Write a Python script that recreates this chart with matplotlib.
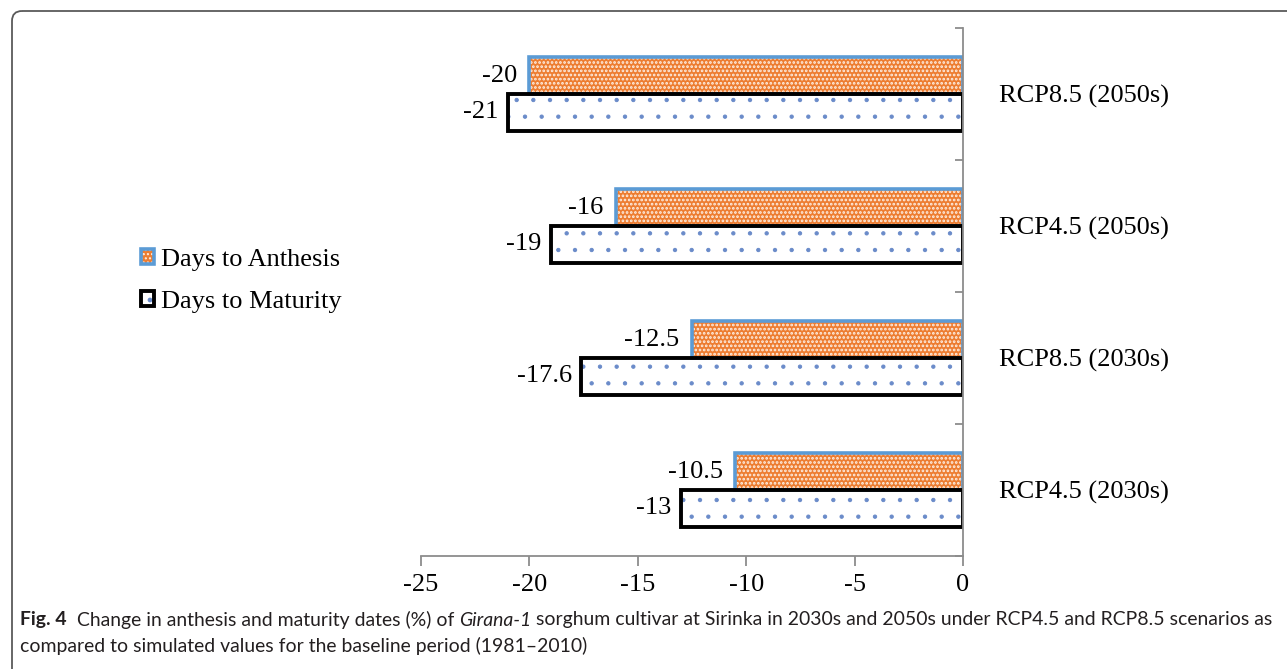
import matplotlib
matplotlib.use('Agg')
import matplotlib.pyplot as plt
import numpy as np
from matplotlib.patches import FancyBboxPatch

# scenario labels, bottom to top
scenarios = ['RCP4.5 (2030s)', 'RCP8.5 (2030s)', 'RCP4.5 (2050s)', 'RCP8.5 (2050s)']
anthesis = [-10.5, -12.5, -16, -20]
maturity = [-13, -17.6, -19, -21]
anthesis_labels = ['-10.5', '-12.5', '-16', '-20']
maturity_labels = ['-13', '-17.6', '-19', '-21']
xticks = [-25, -20, -15, -10, -5, 0]

plt.rcParams['font.family'] = ['Liberation Serif', 'DejaVu Serif']

fig = plt.figure(figsize=(12.87, 6.69), dpi=100)

# rounded frame around the figure panel
frame_ax = fig.add_axes([0, 0, 1, 1])
frame_ax.set_xlim(0, 1287)
frame_ax.set_ylim(669, 0)
frame_ax.axis('off')
frame_ax.add_patch(FancyBboxPatch((12, 11), 1320, 700,
                                  boxstyle='round,pad=0,rounding_size=10',
                                  fill=False, edgecolor='#5a5a5a', linewidth=1.3))

ax = fig.add_axes([421 / 1287, 1 - 556 / 669, 542 / 1287, 528 / 669])
ax.patch.set_alpha(0)

y = np.arange(len(scenarios))
h = 0.28

# hatched fills
with plt.rc_context({'hatch.linewidth': 1.3}):
    fill_a = ax.barh(y + h / 2, anthesis, h, color='#ED7D31', edgecolor='#FDF0E6',
                     hatch='....', linewidth=0)
with plt.rc_context({'hatch.linewidth': 0.7}):
    fill_m = ax.barh(y - h / 2, maturity, h, color='white', edgecolor='#6A8BC9',
                     hatch='.', linewidth=0)
# outlines
edge_a = ax.barh(y + h / 2, anthesis, h, fill=False, edgecolor='#5B9BD5', linewidth=2.6)
edge_m = ax.barh(y - h / 2, maturity, h, fill=False, edgecolor='black', linewidth=2.8)

for yi, v, lab in zip(y + h / 2, anthesis, anthesis_labels):
    ax.annotate(lab, (v, yi), xytext=(-9, 0), textcoords='offset points',
                ha='right', va='center', fontsize=19)
for yi, v, lab in zip(y - h / 2, maturity, maturity_labels):
    ax.annotate(lab, (v, yi), xytext=(-7, 0), textcoords='offset points',
                ha='right', va='center', fontsize=19)

ax.set_xlim(-25, 0)
ax.set_ylim(-0.5, len(scenarios) - 0.5)

for s in ['top', 'left']:
    ax.spines[s].set_visible(False)
for s in ['bottom', 'right']:
    ax.spines[s].set_color('#8c8c8c')
    ax.spines[s].set_linewidth(1.3)

ax.set_xticks(xticks)
ax.set_xticklabels([str(t) for t in xticks], fontsize=19)
ax.tick_params(axis='x', direction='out', length=7, width=1.3, color='#8c8c8c', pad=6)

# category boundaries as ticks on the zero line, names at centres
ax.yaxis.tick_right()
ax.set_yticks(np.arange(-0.5, len(scenarios), 1.0))
ax.set_yticklabels([])
ax.tick_params(axis='y', which='major', direction='in', length=6, width=1.3, color='#8c8c8c')
ax.set_yticks(y, minor=True)
ax.set_yticklabels(scenarios, minor=True, fontsize=19)
ax.tick_params(axis='y', which='minor', length=0, pad=26)

fig.legend([(fill_a[0], edge_a[0]), (fill_m[0], edge_m[0])],
           ['Days to Anthesis', 'Days to Maturity'],
           loc='center left', bbox_to_anchor=(141 / 1287, 1 - 281 / 669),
           frameon=False, fontsize=19, handlelength=0.5, handleheight=0.5,
           handletextpad=0.25, labelspacing=0.75, borderpad=0, borderaxespad=0)

# caption, sized so the first line spans the panel width
cap_font = ['Lato', 'DejaVu Sans']
line1 = [('Fig. 4', 'bold', 'normal'),
         ('  Change in anthesis and maturity dates (%) of ', 'normal', 'normal'),
         ('Girana-1', 'normal', 'italic'),
         (' sorghum cultivar at Sirinka in 2030s and 2050s under RCP4.5 and RCP8.5 scenarios as',
          'normal', 'normal')]
line2 = [('compared to simulated values for the baseline period (1981\u20132010)',
          'normal', 'normal')]

fig.canvas.draw()
renderer = fig.canvas.get_renderer()


def caption_line(parts, x0, y0, size):
    x = x0
    texts = []
    for txt, weight, style in parts:
        t = fig.text(x / 1287, 1 - y0 / 669, txt, fontsize=size, family=cap_font,
                     fontweight=weight, fontstyle=style, va='center', ha='left',
                     color='#231f20')
        x += t.get_window_extent(renderer).width
        texts.append(t)
    return texts, x - x0


probe, w = caption_line(line1, 20, 620, 13)
for t in probe:
    t.remove()
cap_size = 13 * 1250 / w
caption_line(line1, 20, 620, cap_size)
caption_line(line2, 20, 646, cap_size)

fig.savefig('out.png', dpi=100)
